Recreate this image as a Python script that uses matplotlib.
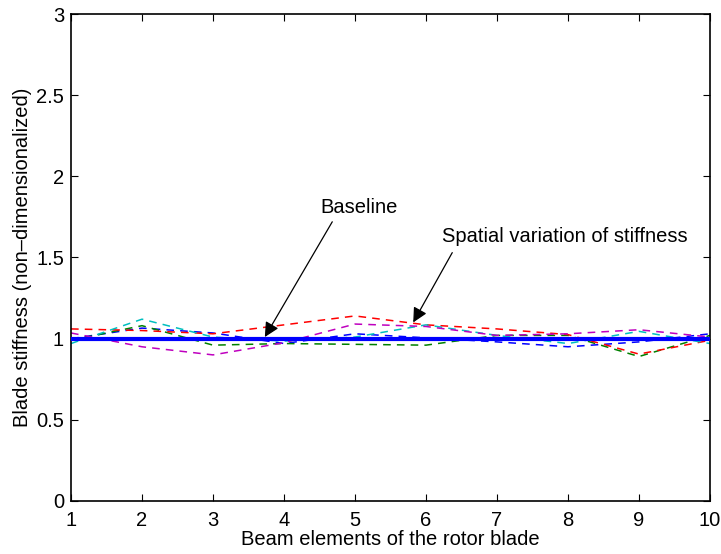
import matplotlib
matplotlib.use("Agg")
import matplotlib.pyplot as plt

plt.rcParams['font.family'] = ['Liberation Sans', 'DejaVu Sans']

elements = [1, 2, 3, 4, 5, 6, 7, 8, 9, 10]
baseline = [1, 1, 1, 1, 1, 1, 1, 1, 1, 1]
blue_var = [1.00, 1.065, 1.035, 0.97, 1.03, 1.005, 0.98, 0.95, 0.98, 1.03]
green_var = [0.99, 1.08, 0.96, 0.97, 0.965, 0.96, 1.02, 1.02, 0.89, 1.02]
red_var = [1.06, 1.05, 1.03, 1.085, 1.14, 1.085, 1.06, 1.025, 0.905, 0.99]
cyan_var = [0.97, 1.12, 1.01, 0.985, 1.01, 1.085, 1.02, 0.97, 1.045, 0.97]
magenta_var = [1.035, 0.95, 0.90, 0.975, 1.09, 1.075, 1.02, 1.03, 1.055, 1.01]

xticks = [1, 2, 3, 4, 5, 6, 7, 8, 9, 10]
yticks = [0, 0.5, 1, 1.5, 2, 2.5, 3]
ytick_labels = ['0', '0.5', '1', '1.5', '2', '2.5', '3']

fig = plt.figure(figsize=(7.21, 5.54), dpi=100)
ax = fig.add_axes([0.0985, 0.0957, 0.8862, 0.879])

series = [
    (blue_var, (0, 0, 1)),
    (green_var, (0, 0.5, 0)),
    (red_var, (1, 0, 0)),
    (cyan_var, (0, 0.75, 0.75)),
    (magenta_var, (0.75, 0, 0.75)),
]
for vals, col in series:
    ax.plot(elements, vals, linestyle=(0, (5, 4)), color=col, lw=1.1, zorder=2)

ax.plot(elements, baseline, color=(0, 0, 1), lw=3, zorder=3)

ax.set_xlim(1, 10)
ax.set_ylim(0, 3)
ax.set_xticks(xticks)
ax.set_yticks(yticks)
ax.set_yticklabels(ytick_labels)
ax.tick_params(direction='in', length=5, width=0.8, labelsize=14.5,
               top=True, right=True, labeltop=False, labelright=False)
ax.tick_params(axis='x', pad=7)
ax.tick_params(axis='y', pad=5)
for s in ax.spines.values():
    s.set_linewidth(1.2)

ax.set_xlabel('Beam elements of the rotor blade', fontsize=14.5, labelpad=0)
ax.set_ylabel('Blade stiffness (non\u2013dimensionalized)', fontsize=14.5, labelpad=3)

ax.text(4.51, 1.81, 'Baseline', fontsize=14.5, ha='left', va='center')
ax.text(6.23, 1.63, 'Spatial variation of stiffness', fontsize=14.5,
        ha='left', va='center')

arrow_kw = dict(arrowstyle='-|>', color='k', lw=0.9, mutation_scale=22,
                shrinkA=0, shrinkB=0)
ax.annotate('', xy=(3.73, 1.01), xytext=(4.68, 1.72), arrowprops=arrow_kw)
ax.annotate('', xy=(5.82, 1.10), xytext=(6.37, 1.53), arrowprops=arrow_kw)

fig.savefig('out.png', dpi=100)
